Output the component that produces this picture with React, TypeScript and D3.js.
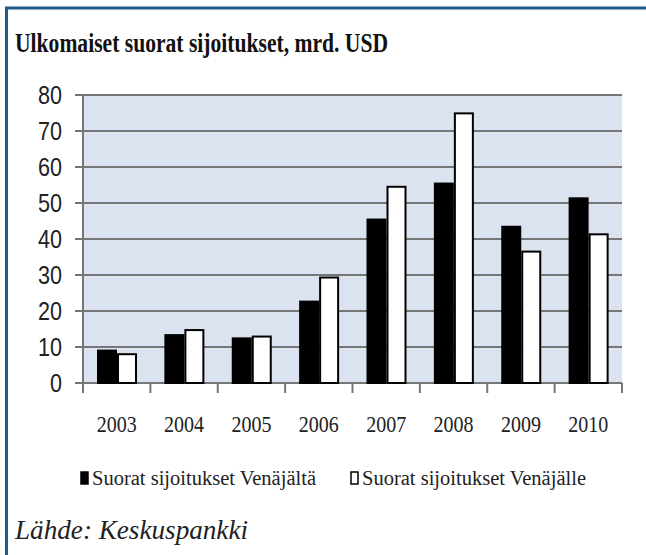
import React, { useRef, useEffect } from 'react'
import * as d3 from 'd3'

// data (mrd. USD)
const years = ['2003', '2004', '2005', '2006', '2007', '2008', '2009', '2010']
const fromRussia = [9.0, 13.3, 12.4, 22.6, 45.4, 55.4, 43.4, 51.3]
const toRussia = [8.0, 14.7, 12.9, 29.3, 54.5, 74.9, 36.5, 41.3]
const yTicks = [0, 10, 20, 30, 40, 50, 60, 70, 80]
const seriesNames = ['Suorat sijoitukset Venäjältä', 'Suorat sijoitukset Venäjälle']
const seriesFill = ['#000000', '#ffffff']
const title = 'Ulkomaiset suorat sijoitukset, mrd. USD'
const source = 'Lähde: Keskuspankki'

export default function App() {
  const chart = useRef<SVGSVGElement>(null)

  useEffect(() => {
    document.body.style.margin = '0'
    const W = 646, H = 555
    const left = 83, right = 622, top = 95, bottom = 383
    const serif = "'Liberation Serif', 'Times New Roman', serif"

    const svg = d3.select(chart.current)
    svg.selectAll('*').remove()
    svg.attr('width', W).attr('height', H)

    svg.append('rect').attr('width', W).attr('height', H).attr('fill', '#ffffff')

    // frame (top + left only)
    svg.append('line').attr('x1', 5).attr('x2', W).attr('y1', 8).attr('y2', 8)
      .attr('stroke', '#1d5b8a').attr('stroke-width', 3)
    svg.append('line').attr('x1', 6.5).attr('x2', 6.5).attr('y1', 7).attr('y2', H)
      .attr('stroke', '#1d5b8a').attr('stroke-width', 3)

    svg.append('text').attr('x', 15).attr('y', 52)
      .attr('font-family', serif).attr('font-weight', 'bold').attr('font-size', 28)
      .attr('textLength', 373).attr('lengthAdjust', 'spacingAndGlyphs')
      .attr('fill', '#111').text(title)

    const x0 = d3.scaleBand().domain(years).range([left, right]).padding(0)
    const x1 = d3.scaleBand<number>().domain([0, 1]).range([14, 54]).padding(0)
    const y = d3.scaleLinear().domain([0, 80]).range([bottom, top])

    svg.append('rect').attr('x', left).attr('y', top)
      .attr('width', right - left).attr('height', bottom - top)
      .attr('fill', '#dbe2f0')

    // gridlines + y labels
    svg.append('g').selectAll('line').data(yTicks).join('line')
      .attr('x1', left - 8).attr('x2', right)
      .attr('y1', d => y(d)).attr('y2', d => y(d))
      .attr('stroke', '#767676').attr('stroke-width', 2)

    svg.append('g').selectAll('text').data(yTicks).join('text')
      .attr('x', 62).attr('y', d => y(d))
      .attr('dy', '0.36em').attr('text-anchor', 'end')
      .attr('font-family', "'Liberation Sans', Arial, sans-serif").attr('font-size', 25)
      .attr('textLength', d => String(d).length * 12).attr('lengthAdjust', 'spacingAndGlyphs')
      .attr('fill', '#222').text(d => d)

    // axes
    svg.append('line').attr('x1', left).attr('x2', left).attr('y1', top).attr('y2', bottom + 10)
      .attr('stroke', '#767676').attr('stroke-width', 2)
    svg.append('g').selectAll('line').data([...years.map(d => x0(d) as number), right]).join('line')
      .attr('x1', d => d).attr('x2', d => d).attr('y1', bottom).attr('y2', bottom + 10)
      .attr('stroke', '#767676').attr('stroke-width', 2)

    // bars
    const series = [fromRussia, toRussia]
    series.forEach((vals, s) => {
      svg.append('g').selectAll('rect').data(vals).join('rect')
        .attr('x', (d, i) => (x0(years[i]) as number) + (x1(s) as number) + 1)
        .attr('y', d => y(d))
        .attr('width', x1.bandwidth() - 2)
        .attr('height', d => bottom - y(d))
        .attr('fill', seriesFill[s])
        .attr('stroke', '#000').attr('stroke-width', 2)
    })

    // x labels
    svg.append('g').selectAll('text').data(years).join('text')
      .attr('x', d => (x0(d) as number) + x0.bandwidth() / 2)
      .attr('y', 432).attr('text-anchor', 'middle')
      .attr('font-family', serif).attr('font-size', 23)
      .attr('textLength', 40).attr('lengthAdjust', 'spacingAndGlyphs')
      .attr('fill', '#222').text(d => d)

    // legend
    const legendX = [80, 350]
    const legend = svg.append('g').selectAll('g').data(seriesNames).join('g')
      .attr('transform', (d, i) => `translate(${legendX[i]},0)`)
    legend.append('rect').attr('x', 1).attr('y', 472).attr('width', 7).attr('height', 12)
      .attr('fill', (d, i) => seriesFill[i]).attr('stroke', '#000').attr('stroke-width', 1.5)
    legend.append('text').attr('x', 12).attr('y', 485)
      .attr('font-family', serif).attr('font-size', 20)
      .attr('textLength', 224).attr('lengthAdjust', 'spacingAndGlyphs')
      .attr('fill', '#222').text(d => d)

    svg.append('text').attr('x', 15).attr('y', 539)
      .attr('font-family', serif).attr('font-style', 'italic').attr('font-size', 27)
      .attr('textLength', 233).attr('lengthAdjust', 'spacingAndGlyphs')
      .attr('fill', '#222').text(source)
  })

  return <svg ref={chart} style={{ display: 'block' }} />
}
